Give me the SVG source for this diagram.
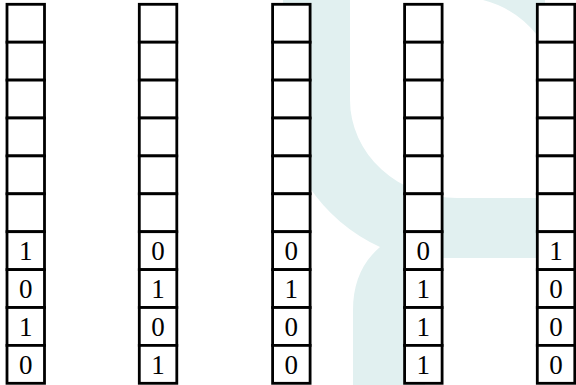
<svg xmlns="http://www.w3.org/2000/svg" width="576" height="385" viewBox="0 0 576 385">
<style>
.cell{fill:#ffffff;stroke:#000000;stroke-width:2.8}
.bit{font-family:"Liberation Serif","DejaVu Serif",serif;font-size:27px;fill:#000000;text-anchor:middle}
.wm{fill:#e1f0f0;stroke:none}
</style>
<defs>
<g id="stack">
<rect class="cell" x="0" y="4.3" width="37.5" height="37.9"/>
<rect class="cell" x="0" y="42.2" width="37.5" height="37.9"/>
<rect class="cell" x="0" y="80.1" width="37.5" height="37.9"/>
<rect class="cell" x="0" y="118" width="37.5" height="37.9"/>
<rect class="cell" x="0" y="155.9" width="37.5" height="37.9"/>
<rect class="cell" x="0" y="193.8" width="37.5" height="37.9"/>
<rect class="cell" x="0" y="231.7" width="37.5" height="37.9"/>
<rect class="cell" x="0" y="269.6" width="37.5" height="37.9"/>
<rect class="cell" x="0" y="307.5" width="37.5" height="37.9"/>
<rect class="cell" x="0" y="345.4" width="37.5" height="37.9"/>
</g>
</defs>
<g id="watermark">
<path class="wm" d="M283,0 L350,0 L350,100 A107,98 0 0 0 457,198 L560,198 L560,258 L425,258 L425,385 L353,385 L353,310 Q353,270 380,247 A174,163 0 0 1 283,100 Z"/>
<path class="wm" d="M483,0 Q516,8.5 537,35 L545,45 L545,0 Z"/>
</g>
<g id="connectors"></g>
<g id="col1" transform="translate(7,0)">
<use href="#stack"/>
<text class="bit" x="18.75" y="260.2">1</text>
<text class="bit" x="18.75" y="298.1">0</text>
<text class="bit" x="18.75" y="336">1</text>
<text class="bit" x="18.75" y="373.9">0</text>
</g>
<g id="col2" transform="translate(139.3,0)">
<use href="#stack"/>
<text class="bit" x="18.75" y="260.2">0</text>
<text class="bit" x="18.75" y="298.1">1</text>
<text class="bit" x="18.75" y="336">0</text>
<text class="bit" x="18.75" y="373.9">1</text>
</g>
<g id="col3" transform="translate(272.6,0)">
<use href="#stack"/>
<text class="bit" x="18.75" y="260.2">0</text>
<text class="bit" x="18.75" y="298.1">1</text>
<text class="bit" x="18.75" y="336">0</text>
<text class="bit" x="18.75" y="373.9">0</text>
</g>
<g id="col4" transform="translate(404.6,0)">
<use href="#stack"/>
<text class="bit" x="18.75" y="260.2">0</text>
<text class="bit" x="18.75" y="298.1">1</text>
<text class="bit" x="18.75" y="336">1</text>
<text class="bit" x="18.75" y="373.9">1</text>
</g>
<g id="col5" transform="translate(537.3,0)">
<use href="#stack"/>
<text class="bit" x="18.75" y="260.2">1</text>
<text class="bit" x="18.75" y="298.1">0</text>
<text class="bit" x="18.75" y="336">0</text>
<text class="bit" x="18.75" y="373.9">0</text>
</g>
</svg>
